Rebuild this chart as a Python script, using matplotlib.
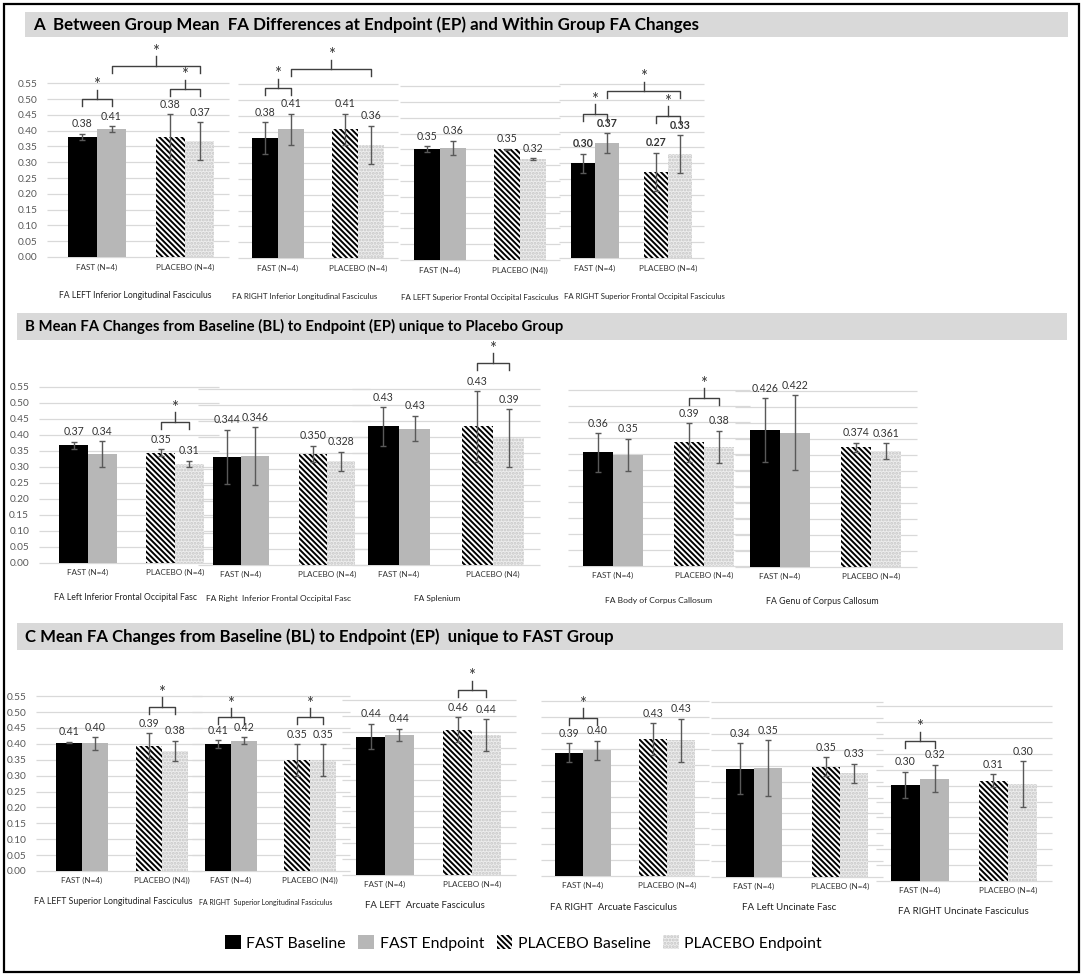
import matplotlib.pyplot as plt
from matplotlib.patches import Rectangle

W, H = 1084, 975
plt.rcParams['font.family'] = ['Lato', 'DejaVu Sans']
plt.rcParams['hatch.linewidth'] = 1.4

series = ['FAST Baseline', 'FAST Endpoint', 'PLACEBO Baseline', 'PLACEBO Endpoint']

# ---- panel A
a_title = 'A  Between Group Mean  FA Differences at Endpoint (EP) and Within Group FA Changes'
a_names = ['FA LEFT Inferior Longitudinal Fasciculus', 'FA RIGHT Inferior Longitudinal Fasciculus',
           'FA LEFT Superior Frontal Occipital Fasciculus', 'FA RIGHT Superior Frontal Occipital Fasciculus']
a_cats = [['FAST (N=4)', 'PLACEBO (N=4)'], ['FAST (N=4)', 'PLACEBO (N=4)'],
          ['FAST (N=4)', 'PLACEBO (N4))'], ['FAST (N=4)', 'PLACEBO (N=4)']]
a_means = [[0.380, 0.405, 0.380, 0.367], [0.380, 0.407, 0.407, 0.358],
           [0.351, 0.354, 0.350, 0.320], [0.300, 0.363, 0.273, 0.328]]
a_errs = [[0.010, 0.009, 0.072, 0.060], [0.050, 0.050, 0.050, 0.060],
          [0.010, 0.023, 0.002, 0.002], [0.030, 0.031, 0.060, 0.060]]
a_labels = [['0.38', '0.41', '0.38', '0.37'], ['0.38', '0.41', '0.41', '0.36'],
            ['0.35', '0.36', '0.35', '0.32'], ['0.30', '0.37', '0.27', '0.33']]
a_sig = [[(0, 1, 0.500), (2, 3, 0.531), (1, 3, 0.605)], [(0, 1, 0.537), (1, 3, 0.598)],
         [], [(0, 1, 0.456), (2, 3, 0.450), (1, 3, 0.528)]]

# ---- panel B
b_title = 'B Mean FA Changes from Baseline (BL) to Endpoint (EP) unique to Placebo Group'
b_names = ['FA Left Inferior Frontal Occipital Fasc', 'FA Right  Inferior Frontal Occipital Fasc',
           'FA Splenium', 'FA Body of Corpus Callosum', 'FA Genu of Corpus Callosum']
b_cats = [['FAST (N=4)', 'PLACEBO (N=4)'], ['FAST (N=4)', 'PLACEBO (N=4)'],
          ['FAST (N=4)', 'PLACEBO (N4)'], ['FAST (N=4)', 'PLACEBO (N=4)'],
          ['FAST (N=4)', 'PLACEBO (N=4)']]
b_means = [[0.368, 0.340, 0.345, 0.309], [0.338, 0.340, 0.348, 0.324],
           [0.433, 0.426, 0.433, 0.397], [0.355, 0.348, 0.386, 0.373],
           [0.428, 0.420, 0.374, 0.361]]
b_errs = [[0.011, 0.040, 0.010, 0.010], [0.085, 0.090, 0.025, 0.030],
          [0.060, 0.040, 0.110, 0.090], [0.060, 0.050, 0.060, 0.050],
          [0.100, 0.116, 0.015, 0.025]]
b_labels = [['0.37', '0.34', '0.35', '0.31'], ['0.344', '0.346', '0.350', '0.328'],
            ['0.43', '0.43', '0.43', '0.39'], ['0.36', '0.35', '0.39', '0.38'],
            ['0.426', '0.422', '0.374', '0.361']]
b_sig = [[(2, 3, 0.441)], [], [(2, 3, 0.631)], [(2, 3, 0.526)], []]

# ---- panel C
c_title = 'C Mean FA Changes from Baseline (BL) to Endpoint (EP)  unique to FAST Group'
c_names = ['FA LEFT Superior Longitudinal Fasciculus', 'FA RIGHT  Superior Longitudinal Fasciculus',
           'FA LEFT  Arcuate Fasciculus', 'FA RIGHT  Arcuate Fasciculus',
           'FA Left Uncinate Fasc', 'FA RIGHT Uncinate Fasciculus']
c_cats = [['FAST (N=4)', 'PLACEBO (N4))'], ['FAST (N=4)', 'PLACEBO (N4))'],
          ['FAST (N=4)', 'PLACEBO (N=4)'], ['FAST (N=4)', 'PLACEBO (N=4)'],
          ['FAST (N=4)', 'PLACEBO (N=4)'], ['FAST (N=4)', 'PLACEBO (N=4)']]
c_means = [[0.404, 0.401, 0.393, 0.378], [0.400, 0.409, 0.348, 0.348],
           [0.435, 0.440, 0.457, 0.440], [0.388, 0.396, 0.430, 0.427],
           [0.341, 0.342, 0.347, 0.326], [0.303, 0.322, 0.315, 0.305]]
c_errs = [[0.003, 0.020, 0.040, 0.031], [0.012, 0.011, 0.050, 0.050],
          [0.040, 0.020, 0.040, 0.050], [0.030, 0.030, 0.050, 0.068],
          [0.080, 0.088, 0.030, 0.030], [0.041, 0.043, 0.020, 0.072]]
c_labels = [['0.41', '0.40', '0.39', '0.38'], ['0.41', '0.42', '0.35', '0.35'],
            ['0.44', '0.44', '0.46', '0.44'], ['0.39', '0.40', '0.43', '0.43'],
            ['0.34', '0.35', '0.35', '0.33'], ['0.30', '0.32', '0.31', '0.30']]
c_sig = [[(2, 3, 0.516)], [(0, 1, 0.483), (2, 3, 0.483)], [(2, 3, 0.581)],
         [(0, 1, 0.498)], [], [(0, 1, 0.440)]]

yticks = [0.00, 0.05, 0.10, 0.15, 0.20, 0.25, 0.30, 0.35, 0.40, 0.45, 0.50, 0.55]

# layout in pixels: FAST cluster centre, cluster pitch, zero-line shift
panels = [
    dict(title=a_title, names=a_names, cats=a_cats, means=a_means, errs=a_errs,
         labels=a_labels, sig=a_sig, band=(25, 12, 1068, 37), tsize=12.2,
         x0=[97, 278, 440, 595], pitch=[88, 80, 80, 73], dz=[0, 1, 3, 1],
         zero=257, scale=316, top=40, cat_dy=13, name_dy=38, nsize=[6.2, 5.7, 5.7, 5.6],
         nshift=[-6, -13, 0, 13]),
    dict(title=b_title, names=b_names, cats=b_cats, means=b_means, errs=b_errs,
         labels=b_labels, sig=b_sig, band=(17, 313, 1067, 340), tsize=10.7,
         x0=[88, 241, 399, 613, 780], pitch=[87, 86, 94, 91, 91], dz=[0, 2, 2, 3, 4],
         zero=563, scale=320, top=341, cat_dy=12, name_dy=34, nsize=[6.2, 6.0, 6.0, 6.1, 6.4],
         nshift=[-6, -6, -9, 0, -3]),
    dict(title=c_title, names=c_names, cats=c_cats, means=c_means, errs=c_errs,
         labels=c_labels, sig=c_sig, band=(17, 623, 1063, 650), tsize=12.1,
         x0=[82, 231, 385, 583, 754, 920], pitch=[80, 79, 87, 84, 86, 88], dz=[0, 0, 4, 5, 6, 10],
         zero=871, scale=318, top=652, cat_dy=12, name_dy=31, nsize=[6.3, 5.0, 6.9, 6.9, 7.0, 7.0],
         nshift=[-9, -5, -4, -11, -8, -1]),
]

bar_w = 0.33
styles = [dict(color='black'),
          dict(color='#b7b7b7'),
          dict(facecolor='white', edgecolor='black', hatch='\\' * 6, linewidth=0),
          dict(facecolor='#ededed', edgecolor='#c6c6c6', hatch='.....', linewidth=0)]
offs = [-bar_w / 2, bar_w / 2, 1 - bar_w / 2, 1 + bar_w / 2]

fig = plt.figure(figsize=(W / 100, H / 100), dpi=100)
fig.patches.append(Rectangle((4 / W, 1 - 972 / H), 1075 / W, 968 / H, fill=False,
                             lw=1.6, ec='black', transform=fig.transFigure))

legend_handles = None
for p in panels:
    x1, y1, x2, y2 = p['band']
    fig.patches.append(Rectangle((x1 / W, 1 - y2 / H), (x2 - x1) / W, (y2 - y1) / H,
                                 fc='#d9d9d9', ec='none', transform=fig.transFigure))
    fig.text((x1 + 8) / W, 1 - (y1 + y2) / 2 / H, p['title'], fontsize=p['tsize'],
             fontweight='bold', va='center', ha='left')
    for i in range(len(p['names'])):
        zero = p['zero'] + p['dz'][i]
        pitch = p['pitch'][i]
        left = p['x0'][i] - pitch / 2
        ax_h = zero - p['top']
        ax = fig.add_axes([left / W, 1 - zero / H, 2 * pitch / W, ax_h / H])
        ax.patch.set_alpha(0)
        ax.set_xlim(-0.5, 1.5)
        ax.set_ylim(0, ax_h / p['scale'])
        for s in ax.spines.values():
            s.set_visible(False)
        # first chart of a row: gridlines start a little left of the plot area
        g0 = -0.5 - (6 / pitch if i == 0 else 0)
        ax.hlines(yticks, g0, 1.5, color='#d9d9d9', lw=0.9, zorder=0, clip_on=False)
        ax.set_yticks(yticks)
        if i == 0:
            ax.set_yticklabels(['%.2f' % t for t in yticks], fontsize=7.3, color='#595959')
            ax.tick_params(axis='y', length=0, pad=11)
        else:
            ax.tick_params(axis='y', length=0, labelleft=False)
        ax.set_xticks([0, 1])
        ax.set_xticklabels(p['cats'][i], fontsize=5.9, color='#333333')
        ax.tick_params(axis='x', length=0, pad=p['cat_dy'] - 8)
        bold = 'bold' if p['title'].startswith('A') and i == 3 else 'normal'
        handles = []
        for k in range(4):
            b = ax.bar(offs[k], p['means'][i][k], width=bar_w, zorder=2, **styles[k])
            handles.append(b)
            ax.errorbar(offs[k], p['means'][i][k], yerr=p['errs'][i][k], fmt='none',
                        ecolor='#595959', elinewidth=1, capsize=2.5, capthick=1, zorder=3)
            ax.text(offs[k], p['means'][i][k] + p['errs'][i][k] + 0.014, p['labels'][i][k],
                    ha='center', va='bottom', fontsize=7.6, color='#333333', fontweight=bold)
        if legend_handles is None:
            legend_handles = handles
        for (k1, k2, yb) in p['sig'][i]:
            xa, xb = offs[k1], offs[k2]
            ax.plot([xa, xa, xb, xb], [yb - 0.022, yb, yb, yb - 0.022], color='#404040',
                    lw=1, clip_on=False, zorder=4)
            xm = (xa + xb) / 2
            ax.plot([xm, xm], [yb, yb + 0.03], color='#404040', lw=1, clip_on=False, zorder=4)
            ax.text(xm, yb + 0.028, '*', ha='center', va='baseline', fontsize=12,
                    color='#333333', clip_on=False)
        ax.text(0.5 + p['nshift'][i] / (2 * pitch), -p['name_dy'] / ax_h, p['names'][i],
                transform=ax.transAxes, ha='center', va='center',
                fontsize=p['nsize'][i], color='#222222')

fig.legend(legend_handles, series, loc='center', bbox_to_anchor=(0.483, 1 - 943 / H), ncol=4,
           frameon=False, fontsize=11.3, handlelength=1.0, handleheight=1.0,
           columnspacing=0.8, handletextpad=0.35)

fig.savefig('out.png', dpi=100)
